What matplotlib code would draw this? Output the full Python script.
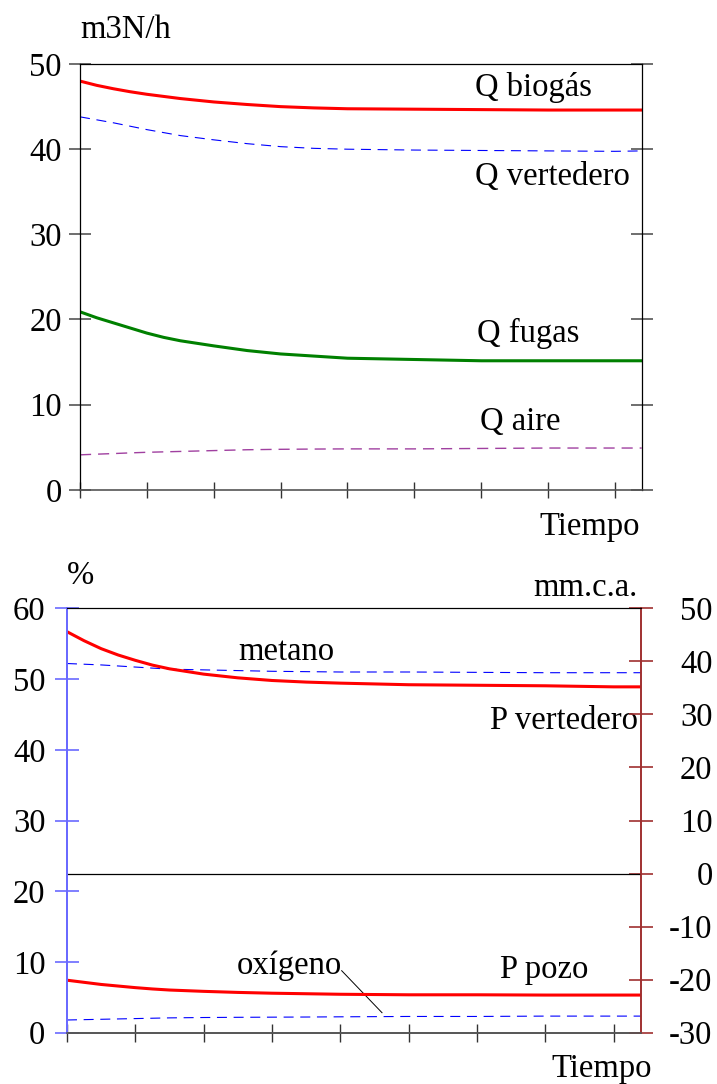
import matplotlib
matplotlib.use('Agg')
import matplotlib.pyplot as plt

plt.rcParams['font.family'] = ['Liberation Serif', 'DejaVu Serif']
plt.rcParams['axes.unicode_minus'] = False

# tiempo (unidades arbitrarias, ticks cada 1)
t = [0, 0.25, 0.5, 0.75, 1, 1.25, 1.5, 2, 2.5, 3, 3.5, 4, 5, 6, 7, 8, 8.4]

# caudales m3N/h
q_biogas = [48.0, 47.5, 47.1, 46.75, 46.45, 46.2, 45.95, 45.55, 45.25, 45.0, 44.85, 44.75,
            44.7, 44.65, 44.6, 44.6, 44.6]
q_vertedero = [43.8, 43.45, 43.1, 42.7, 42.3, 41.95, 41.6, 41.1, 40.65, 40.3, 40.1, 40.0,
               39.9, 39.85, 39.8, 39.75, 39.8]
q_fugas = [20.9, 20.2, 19.6, 19.0, 18.4, 17.9, 17.5, 16.9, 16.35, 15.95, 15.7, 15.45,
           15.3, 15.15, 15.15, 15.15, 15.15]
q_aire = [4.1, 4.18, 4.25, 4.33, 4.4, 4.45, 4.5, 4.6, 4.7, 4.75, 4.78, 4.8,
          4.8, 4.85, 4.9, 4.9, 4.9]

# composicion %
metano = [52.2, 52.1, 52.0, 51.85, 51.7, 51.55, 51.4, 51.3, 51.2, 51.1, 51.05, 51.0,
          51.0, 50.95, 50.9, 50.9, 50.9]
oxigeno = [1.8, 1.85, 1.9, 1.95, 2.0, 2.05, 2.1, 2.15, 2.18, 2.2, 2.22, 2.25,
           2.3, 2.3, 2.35, 2.35, 2.35]

# presiones mm.c.a.
p_vertedero = [45.6, 43.9, 42.4, 41.2, 40.2, 39.3, 38.6, 37.6, 36.9, 36.4, 36.1, 35.9,
               35.6, 35.5, 35.4, 35.2, 35.2]
p_pozo = [-20.1, -20.5, -20.9, -21.2, -21.5, -21.75, -21.95, -22.2, -22.4, -22.55, -22.65, -22.75,
          -22.85, -22.85, -22.9, -22.9, -22.9]

fs = 23.5
grey = '#555555'
blue_ax = '#6a6aff'
red_ax = '#a03030'

fig = plt.figure(figsize=(7.17, 10.84), dpi=100)

# ---------- grafico superior ----------
ax = fig.add_axes([0.1116, 0.5482, 0.7834, 0.3927])
ax.plot(t, q_biogas, color='red', lw=2.2)
ax.plot(t, q_vertedero, color='blue', lw=0.8, dashes=(9, 6))
ax.plot(t, q_fugas, color='green', lw=2.2)
ax.plot(t, q_aire, color='#a040a0', lw=1.0, dashes=(8, 5))
ax.set_xlim(0, 8.4)
ax.set_ylim(0, 50)
ax.set_yticks([0, 10, 20, 30, 40, 50])
ax.set_xticks(range(0, 9))
ax.set_xticklabels([])
ax.tick_params(axis='y', direction='inout', length=16, width=1.2, color=grey,
               labelsize=fs, pad=5, right=True)
ax.tick_params(axis='x', direction='inout', length=12, width=1, color='#333333')
for s in ['left', 'top', 'right']:
    ax.spines[s].set_color('black')
    ax.spines[s].set_linewidth(0.9)
ax.spines['bottom'].set_color(grey)
ax.spines['bottom'].set_linewidth(1.2)

ax.text(0, 53.1, 'm3N/h', fontsize=fs, ha='left', va='baseline')
ax.text(5.91, 46.2, 'Q biogás', fontsize=fs, va='baseline')
ax.text(5.91, 35.8, 'Q vertedero', fontsize=fs, va='baseline')
ax.text(5.94, 17.3, 'Q fugas', fontsize=fs, va='baseline')
ax.text(5.98, 7.0, 'Q aire', fontsize=fs, va='baseline')
ax.text(8.37, -5.3, 'Tiempo', fontsize=fs, ha='right', va='baseline', clip_on=False)

# ---------- grafico inferior ----------
b1 = fig.add_axes([0.0934, 0.0473, 0.8006, 0.3915])
b2 = b1.twinx()
b1.plot(t, metano, color='blue', lw=0.8, dashes=(9, 6))
b1.plot(t, oxigeno, color='blue', lw=0.8, dashes=(9, 6))
b2.plot(t, p_vertedero, color='red', lw=2.2)
b2.plot(t, p_pozo, color='red', lw=2.2)
b2.axhline(0, color='black', lw=0.9)

b1.set_xlim(0, 8.4)
b1.set_ylim(0, 60)
b2.set_ylim(-30, 50)
b1.set_yticks(range(0, 61, 10))
b2.set_yticks(range(-30, 51, 10))
b1.set_xticks(range(0, 9))
b1.set_xticklabels([])
b1.tick_params(axis='y', direction='inout', length=17, width=1.2, color=blue_ax,
               labelsize=fs, pad=7)
b1.tick_params(axis='x', direction='inout', length=13, width=1, color='#333333')
b2.tick_params(axis='y', direction='inout', length=17, width=1.2, color=red_ax,
               labelsize=fs, pad=43)
for lab in b2.get_yticklabels():
    lab.set_horizontalalignment('right')
for a in (b1, b2):
    a.spines['top'].set_color('black')
    a.spines['left'].set_color(blue_ax)
    a.spines['left'].set_linewidth(1.4)
    a.spines['right'].set_color(red_ax)
    a.spines['right'].set_linewidth(1.2)
    a.spines['bottom'].set_color(grey)
    a.spines['bottom'].set_linewidth(1.2)

b1.text(0, 63.4, '%', fontsize=fs, ha='left', va='baseline')
b1.text(8.35, 61.7, 'mm.c.a.', fontsize=fs, ha='right', va='baseline')
b1.text(2.51, 52.7, 'metano', fontsize=fs, va='baseline')
b1.text(6.19, 42.9, 'P vertedero', fontsize=fs, va='baseline')
b1.text(6.34, 7.7, 'P pozo', fontsize=fs, va='baseline')
b1.text(2.48, 8.26, 'oxígeno', fontsize=fs, va='baseline')
b1.plot([4.02, 4.61], [8.77, 2.83], color='black', lw=0.7)
b1.text(8.56, -6.2, 'Tiempo', fontsize=fs, ha='right', va='baseline', clip_on=False)

fig.savefig('out.png', dpi=100)
